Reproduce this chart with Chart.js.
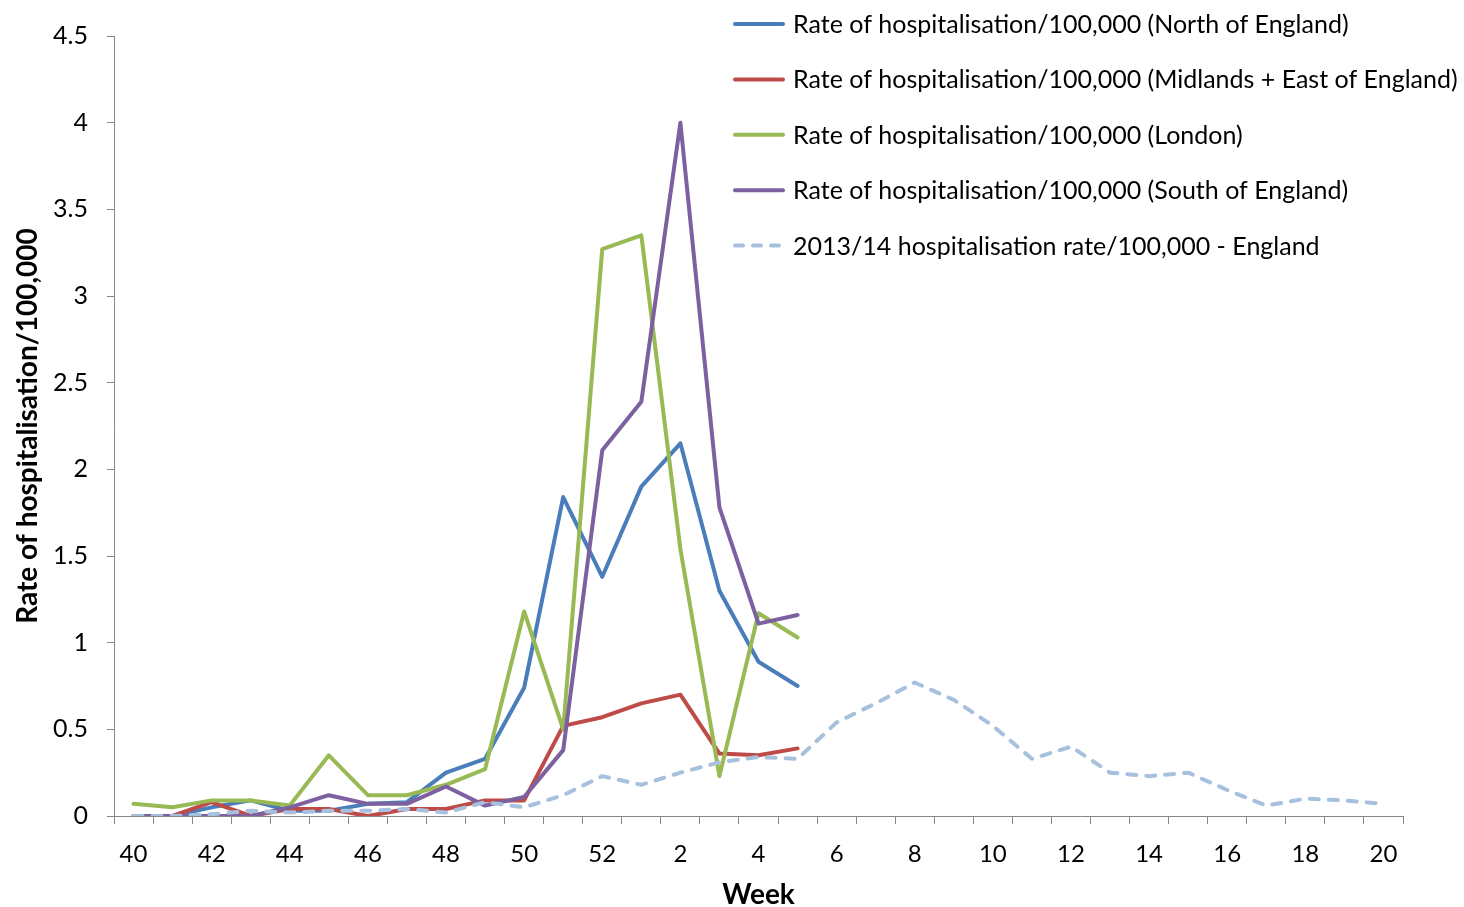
<!DOCTYPE html>
<html>
<head>
<meta charset="utf-8">
<title>Hospitalisation rate by region</title>
<script src="https://cdn.jsdelivr.net/npm/chart.js@4.4.1/dist/chart.umd.min.js"></script>
<style>
  html, body { margin: 0; padding: 0; background: #fff; }
  #wrap { width: 1464px; height: 907px; }
</style>
</head>
<body>
<div id="wrap"><canvas id="rateChart" width="1464" height="907"></canvas></div>
<script>
// weeks 40-52 of one year then 1-20 of the next
const weeks = ['40','41','42','43','44','45','46','47','48','49','50','51','52',
               '1','2','3','4','5','6','7','8','9','10','11','12','13','14','15','16','17','18','19','20'];

const north    = [0, 0, 0.05, 0.09, 0.03, 0.03, 0.07, 0.08, 0.25, 0.33, 0.74, 1.84, 1.38, 1.90, 2.15, 1.30, 0.89, 0.75];
const midlands = [0, 0, 0.08, 0, 0.04, 0.04, 0, 0.04, 0.04, 0.09, 0.09, 0.52, 0.57, 0.65, 0.70, 0.36, 0.35, 0.39];
const london   = [0.07, 0.05, 0.09, 0.09, 0.06, 0.35, 0.12, 0.12, 0.18, 0.27, 1.18, 0.50, 3.27, 3.35, 1.54, 0.23, 1.17, 1.03];
const south    = [0, 0, 0, 0, 0.05, 0.12, 0.07, 0.07, 0.17, 0.06, 0.11, 0.38, 2.11, 2.39, 4.00, 1.78, 1.11, 1.16];
const england1314 = [0, 0, 0.01, 0.03, 0.02, 0.03, 0.03, 0.04, 0.02, 0.08, 0.05, 0.12, 0.23, 0.18, 0.25, 0.31, 0.34, 0.33,
                     0.54, 0.65, 0.77, 0.67, 0.52, 0.33, 0.40, 0.25, 0.23, 0.25, 0.15, 0.06, 0.10, 0.09, 0.07];

const yTicks = [0, 0.5, 1, 1.5, 2, 2.5, 3, 3.5, 4, 4.5];

const FONT = 'Lato, "Open Sans", sans-serif';
const AXIS_GREY = '#868686';

function series(label, data, color, order, dash) {
    return {
        label: label,
        data: data,
        borderColor: color,
        backgroundColor: color,
        borderWidth: 4,
        borderDash: dash || [],
        borderCapStyle: 'round',
        borderJoinStyle: 'round',
        pointRadius: 0,
        pointHoverRadius: 0,
        tension: 0,
        fill: false,
        order: order
    };
}

// legend sits inside the plot, top right, like the original
const cornerLegend = {
    id: 'cornerLegend',
    afterDraw(chart) {
        const ctx = chart.ctx;
        ctx.save();
        ctx.font = '25px ' + FONT;
        ctx.textBaseline = 'middle';
        ctx.fillStyle = '#000';
        chart.data.datasets.forEach((ds, i) => {
            const y = 24 + i * 55.4;
            ctx.beginPath();
            ctx.lineWidth = 4;
            ctx.lineCap = 'round';
            ctx.strokeStyle = ds.borderColor;
            ctx.setLineDash(ds.borderDash.length ? [8, 10] : []);
            ctx.moveTo(735, y);
            ctx.lineTo(783, y);
            ctx.stroke();
            ctx.setLineDash([]);
            ctx.fillText(ds.label, 793, y + 1);
        });
        ctx.restore();
    }
};

const ctx = document.getElementById('rateChart');

const rateChart = new Chart(ctx, {
    type: 'line',
    data: {
        labels: weeks,
        datasets: [
            series('Rate of hospitalisation/100,000 (North of England)', north, '#4A7EBB', 4),
            series('Rate of hospitalisation/100,000 (Midlands + East of England)', midlands, '#BE4B48', 3),
            series('Rate of hospitalisation/100,000 (London)', london, '#98B954', 2),
            series('Rate of hospitalisation/100,000 (South of England)', south, '#7D60A0', 1),
            series('2013/14 hospitalisation rate/100,000 - England', england1314, '#A7C0DE', 0, [9, 10])
        ]
    },
    options: {
        responsive: false,
        animation: false,
        layout: { padding: { top: 36, right: 61, bottom: 0, left: 0 } },
        plugins: {
            legend: { display: false },
            tooltip: { enabled: false }
        },
        scales: {
            x: {
                type: 'category',
                offset: true,
                grid: {
                    offset: true,
                    drawOnChartArea: false,
                    drawTicks: true,
                    tickLength: 8,
                    color: AXIS_GREY
                },
                border: { color: AXIS_GREY, width: 1 },
                ticks: {
                    autoSkip: false,
                    maxRotation: 0,
                    padding: 16,
                    color: '#000',
                    font: { family: FONT, size: 24 },
                    callback: function (value, index) {
                        return index % 2 === 0 ? weeks[index] : '';
                    }
                },
                title: {
                    display: true,
                    text: 'Week',
                    color: '#000',
                    font: { family: FONT, size: 28, weight: 'bold', lineHeight: 1 },
                    padding: { top: 0, bottom: -2 }
                },
                afterFit: (scale) => { scale.height = 91; }
            },
            y: {
                min: 0,
                max: 4.5,
                grid: {
                    drawOnChartArea: false,
                    drawTicks: true,
                    tickLength: 7,
                    color: AXIS_GREY
                },
                border: { color: AXIS_GREY, width: 1 },
                afterBuildTicks: (scale) => {
                    scale.ticks = yTicks.map(v => ({ value: v }));
                },
                ticks: {
                    padding: 19,
                    color: '#000',
                    font: { family: FONT, size: 25 },
                    callback: (v) => String(v)
                },
                title: {
                    display: true,
                    text: 'Rate of hospitalisation/100,000',
                    color: '#000',
                    font: { family: FONT, size: 28, weight: 'bold', lineHeight: 1 },
                    padding: { top: 14, bottom: 0 }
                },
                afterFit: (scale) => { scale.width = 114; }
            }
        }
    },
    plugins: [cornerLegend]
});
</script>
</body>
</html>
